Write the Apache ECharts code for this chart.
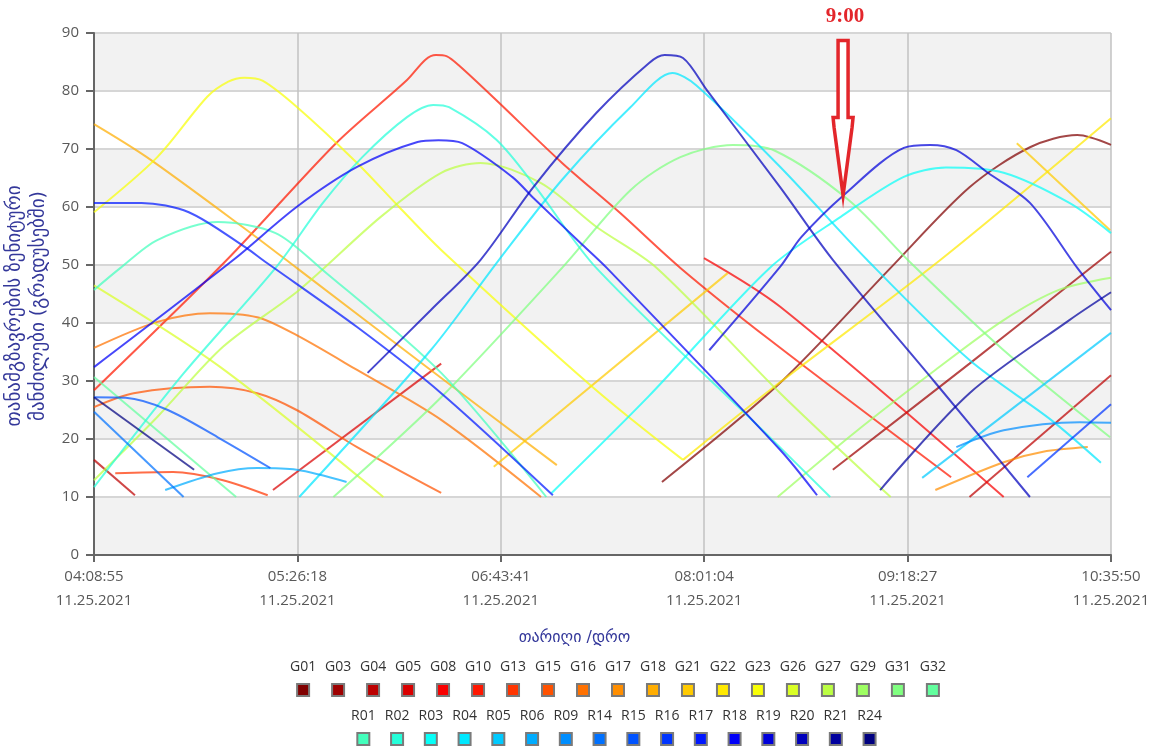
<!DOCTYPE html>
<html><head><meta charset="utf-8">
<script src="https://cdn.jsdelivr.net/npm/echarts@6/dist/echarts.min.js"></script>
<style>html,body{margin:0;padding:0;background:#fff}#c{width:1151px;height:753px}</style>
</head><body><div id="c"></div>
<script>
// ---------- data ----------
const satNamesG = ['G01','G03','G04','G05','G08','G10','G13','G15','G16','G17','G18','G21','G22','G23','G26','G27','G29','G31','G32'];
const satNamesR = ['R01','R02','R03','R04','R05','R06','R09','R14','R15','R16','R17','R18','R19','R20','R21','R24'];
const dateLabel = '11.25.2021';
const axisStart = '04:08:55';
const axisEnd = '10:35:50';
const xTickStepSec = 4643;
const yMin = 0, yMax = 90, yStep = 10;
const arrowLabel = '9:00';
const arrowTime = '08:53:54';
const arrowTipElev = 62;
const xTitle = 'თარიღი /დრო';
const yTitle = 'თანამგზავრების ზენიტური\nმანძილები (გრადუსებში)';

// [time, elevation in degrees]
const G01 = [['07:45',12.6],['08:30',29.7],['09:12',49.5],['09:42',63.4],['10:05',70.3],['10:23',72.4],['10:35:50',70.7]];
const G03 = [['08:50',14.7],['09:42',33],['10:35:50',52.3]];
const G04a = [['04:08:55',16.4],['04:24:30',10.3]];
const G04b = [['09:42',10],['10:35:50',31]];
const G05 = [['05:17',11.2],['06:21',33]];
const G08 = [['08:01',51.2],['08:30',42.8],['09:55',10]];
const G10 = [['04:08:55',28.4],['04:59:30',50.9],['05:41',71],['06:08',81.9],['06:15',85.4],['06:19',86.2],['06:23',86],['06:28',84.3],['06:42',78.4],['07:07',67.6],['07:29',59],['07:52',49.5],['08:26',37.1],['09:35',13.4]];
const G13 = [['04:17',14.1],['04:39',14.3],['04:58',12.9],['05:15',10.3]];
const G15 = [['04:08:55',25.5],['04:24',27.9],['04:53',29],['05:11',27.9],['05:26',25],['05:49',18.6],['06:21',10.7]];
const G16 = [['04:08:55',35.7],['04:33',40.2],['04:53',41.7],['05:11',41],['05:26',37.9],['05:49',31.9],['06:21',23.3],['06:59',10]];
const G17 = [['09:29',11.2],['09:55',16],['10:10',17.8],['10:27',18.6]];
const G18 = [['04:08:55',74.3],['04:29',68.6],['05:08',55.7],['05:26',49.5],['06:17',31.9],['07:05',15.5]];
const G21a = [['06:41',15.2],['08:10',48.6]];
const G21b = [['10:00',71],['10:35:30',56]];
const G22 = [['07:53',16.4],['08:26',28.4],['09:31',50.9],['10:35:50',75.3]];
const G23 = [['04:08:55',59.1],['04:33',68.6],['04:52',79],['05:00',81.6],['05:06',82.3],['05:13',81.8],['05:26',77.3],['05:49',67.6],['06:05',60],['06:21',52.6],['07:19',28.8],['07:53',16.4]];
const G26 = [['04:08:55',46.5],['04:57',32.4],['05:59',10]];
const G27 = [['04:08:55',12.9],['04:33',23.8],['04:58',35.9],['05:27',45.7],['05:58',58.3],['06:21',65.9],['06:36',67.6],['06:59',64.1],['07:20',56.6],['07:43',49.5],['08:30',27.9],['09:12',10]];
const G29 = [['08:29',10],['08:58',21],['09:29',31.9],['09:55',40.5],['10:16',45.7],['10:35:50',47.8]];
const G31 = [['05:40',10],['06:21',27.2],['07:07',49.5],['07:33',62.9],['07:52',68.6],['08:12',70.7],['08:28',69.7],['08:56',61.2],['09:20',50.2],['09:55',35.3],['10:35:30',20.3]];
const G32 = [['04:08:55',30.7],['05:03',10]];
const R01 = [['04:08:55',45.7],['04:19',49.5],['04:33',54.3],['04:56',57.4],['05:18',55.5],['05:35',49.5],['06:21',31.4],['07:01',10]];
const R02 = [['04:08:55',11.7],['04:43',31.3],['05:18',49.5],['05:36',60.7],['05:51',68.6],['06:08',75.5],['06:18',77.6],['06:24',77.2],['06:42',71.6],['06:57',63.4],['07:20',49.5],['08:26',20.3],['08:49',10]];
const R03 = [['07:03',10.7],['07:40',27.4],['08:26',49.5],['08:53',58.3],['09:17',65.2],['09:33',66.8],['09:55',65.9],['10:20',60.7],['10:35:50',55.5]];
const R04 = [['05:27',10],['06:17',35.3],['06:43',50.9],['07:07',64.7],['07:33',77.2],['07:49',83.1],['07:58',81],['08:30',66.9],['09:03',50.9],['09:42',33.6],['10:13',23.3],['10:32',15.9]];
const R05 = [['09:24',13.3],['10:35:50',38.3]];
const R06 = [['04:36',11.2],['04:56',14.1],['05:11',15],['05:26',14.7],['05:45',12.6]];
const R09 = [['09:37',18.6],['09:55',21.5],['10:24',22.9],['10:35:50',22.8]];
const R14 = [['04:08:55',24.7],['04:43',10]];
const R15 = [['04:08:55',27.2],['04:21',27.1],['04:37',25],['04:56',20.3],['05:16',15]];
const R16 = [['10:04',13.4],['10:35:50',26]];
const R17 = [['04:08:55',60.7],['04:27',60.7],['04:45',59.1],['05:07',52.9],['05:13',50.9],['05:49',39.3],['06:21',27.9],['07:03:30',10.3]];
const R18 = [['04:08:55',32.4],['05:02',50.9],['05:26',60],['05:49',66.9],['06:12',71.2],['06:20',71.5],['06:29',71],['06:48',65.2],['06:56',61.6],['07:14',53.8],['07:24',49.5],['08:30',18.1],['08:44',10.3]];
const R19 = [['08:03',35.3],['08:30',49.7],['08:38',54.8],['08:54',62],['09:17',70.2],['09:27',70.7],['09:37',69.8],['09:49',65.9],['10:05',60.7],['10:23',49.5],['10:35:50',42.2]];
const R20 = [['05:53',31.4],['06:17',42.2],['06:36',50.9],['06:56',63.4],['07:20',76.2],['07:40',84.8],['07:46',86.2],['07:53',85.7],['08:02',80.2],['08:30',63.4],['08:50',50.9],['09:29',29.7],['10:05',10]];
const R21 = [['09:08',11.2],['09:42',27.9],['10:20',40.5],['10:35:50',45.3]];
const R24 = [['04:08:55',27.2],['04:47',14.7]];

const passes = [
  ['G01',G01],['G03',G03],['G04',G04a],['G04',G04b],['G05',G05],['G08',G08],['G10',G10],['G13',G13],
  ['G15',G15],['G16',G16],['G17',G17],['G18',G18],['G21',G21a],['G21',G21b],['G22',G22],['G23',G23],
  ['G26',G26],['G27',G27],['G29',G29],['G31',G31],['G32',G32],
  ['R01',R01],['R02',R02],['R03',R03],['R04',R04],['R05',R05],['R06',R06],['R09',R09],['R14',R14],
  ['R15',R15],['R16',R16],['R17',R17],['R18',R18],['R19',R19],['R20',R20],['R21',R21],['R24',R24]
];

// ---------- helpers ----------
function toSec(t){ const p = t.split(':').map(Number); return p[0]*3600 + p[1]*60 + (p[2]||0); }
const startSec = toSec(axisStart), endSec = toSec(axisEnd);
function pad(n){ return (n<10?'0':'') + n; }
function fmtTime(v){ const s = Math.round(v) + startSec; return pad(Math.floor(s/3600)) + ':' + pad(Math.floor(s%3600/60)) + ':' + pad(s%60); }
function clamp(x){ return Math.max(0, Math.min(1, x)); }
function jet(v){
  const r = clamp(Math.min(4*v-1.5, -4*v+4.5)), g = clamp(Math.min(4*v-0.5, -4*v+3.5)), b = clamp(Math.min(4*v+0.5, -4*v+2.5));
  return 'rgb(' + Math.round(r*255) + ',' + Math.round(g*255) + ',' + Math.round(b*255) + ')';
}
const allNames = satNamesG.concat(satNamesR);
const colorOf = {};
allNames.forEach((n,i) => { colorOf[n] = jet(1 - i/(allNames.length-1)); });

const series = passes.map(([name, pts]) => ({
  name, type: 'line', showSymbol: false, smooth: 0.3,
  data: pts.map(([t,e]) => [toSec(t) - startSec, e]),
  color: colorOf[name],
  lineStyle: { width: 2, opacity: 0.72, color: colorOf[name] },
  emphasis: { disabled: true }, silent: true
}));

function legendCfg(names, top, left, gap){
  const rich = { t: { fontSize: 14, color: '#333', lineHeight: 24, align: 'center', fontFamily: 'Open Sans' } };
  names.forEach(n => { rich['s'+n] = { width: 10, height: 10, backgroundColor: colorOf[n], borderColor: '#7a7a7a', borderWidth: 2, lineHeight: 22, align: 'center' }; });
  return {
    data: names, top, left, orient: 'horizontal', padding: 0,
    itemWidth: 0, itemHeight: 0, itemGap: gap, icon: 'rect', selectedMode: false,
    formatter: n => '{t|' + n + '}\n{s' + n + '| }',
    textStyle: { rich }
  };
}

const chart = echarts.init(document.getElementById('c'), null, { renderer: 'canvas' });
chart.setOption({
  animation: false,
  backgroundColor: '#ffffff',
  grid: { left: 94, right: 40, top: 33, bottom: 198, containLabel: false, outerBoundsMode: 'none' },
  legend: [ legendCfg(satNamesG, 660, 285, 3.8), legendCfg(satNamesR, 709, 346, 4.1) ],
  xAxis: {
    type: 'value', min: 0, max: endSec - startSec, interval: xTickStepSec,
    name: xTitle, nameLocation: 'middle', nameGap: 75,
    nameTextStyle: { color: '#34389a', fontSize: 16, fontFamily: 'DejaVu Sans', padding: [0, 56, 0, 0] },
    axisLine: { lineStyle: { color: '#666', width: 2 } },
    axisTick: { show: true, length: 7, lineStyle: { color: '#666', width: 2 } },
    axisLabel: { formatter: v => fmtTime(v) + '\n' + dateLabel, color: '#595959', fontSize: 15, lineHeight: 24, margin: 10, fontFamily: 'Open Sans', showMaxLabel: true, showMinLabel: true },
    splitLine: { show: true, lineStyle: { color: '#c2c2c2', width: 1.5 } }
  },
  yAxis: {
    type: 'value', min: yMin, max: yMax, interval: yStep,
    name: yTitle, nameLocation: 'middle', nameGap: 40, nameRotate: 90,
    nameTextStyle: { color: '#34389a', fontSize: 19, fontFamily: 'DejaVu Sans', lineHeight: 24, padding: [0, 24, 0, 0] },
    axisLine: { show: true, lineStyle: { color: '#666', width: 2 } },
    axisTick: { show: true, length: 8, lineStyle: { color: '#666', width: 2 } },
    axisLabel: { color: '#595959', fontSize: 15, margin: 15, fontFamily: 'Open Sans' },
    splitLine: { show: true, lineStyle: { color: '#d6d6d6', width: 2 } },
    splitArea: { show: true, areaStyle: { color: ['#f2f2f2', '#ffffff'] } }
  },
  series
});

// annotation arrow pointing at the chosen time, placed through the chart's own coordinate conversion
const tip = chart.convertToPixel({ gridIndex: 0 }, [toSec(arrowTime) - startSec, arrowTipElev]);
chart.setOption({
  graphic: [
    { type: 'polygon', z: 100, silent: true,
      shape: { points: [[tip[0]-5, tip[1]-155], [tip[0]+5, tip[1]-155], [tip[0]+5, tip[1]-78], [tip[0]+10, tip[1]-78],
                        [tip[0]+9, tip[1]-68], [tip[0], tip[1]], [tip[0]-9, tip[1]-68], [tip[0]-10, tip[1]-78], [tip[0]-5, tip[1]-78]] },
      style: { fill: '#ffffff', stroke: '#e3262b', lineWidth: 3.5, lineJoin: 'miter' } },
    { type: 'text', z: 100, silent: true, x: tip[0] + 2, y: tip[1] - 179,
      style: { text: arrowLabel, fill: '#e3262b', font: 'bold 21px "Liberation Serif"', align: 'center', verticalAlign: 'middle' } }
  ]
});
</script>
</body></html>
